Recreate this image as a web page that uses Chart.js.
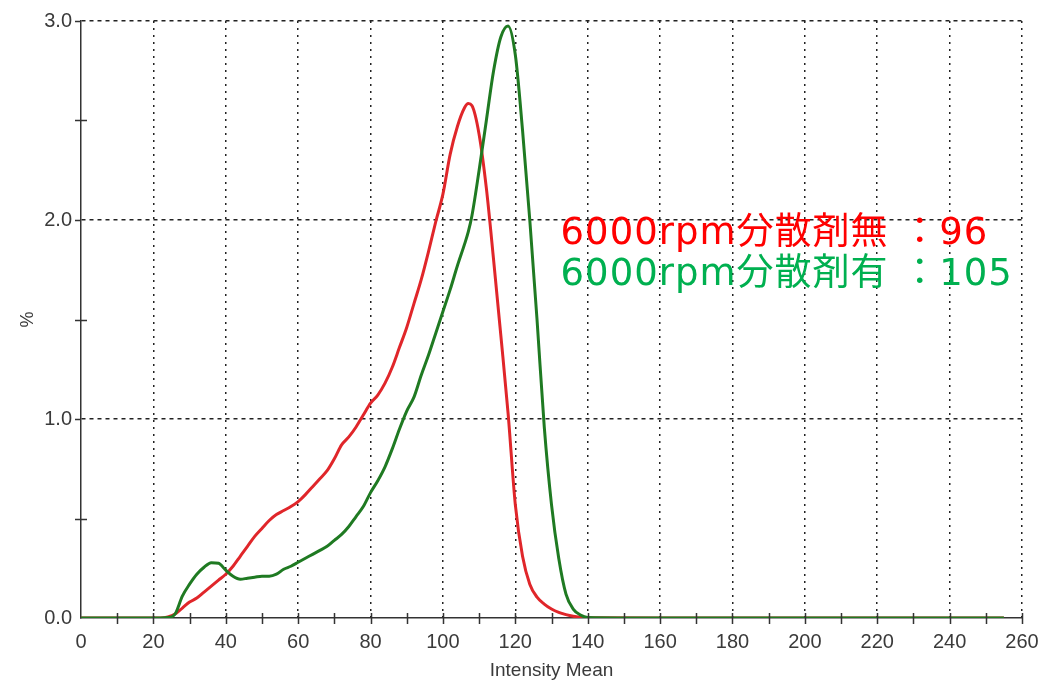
<!DOCTYPE html>
<html>
<head>
<meta charset="utf-8">
<script src="https://cdn.jsdelivr.net/npm/chart.js@4.4.1/dist/chart.umd.min.js"></script>
<style>
  html, body { margin: 0; padding: 0; background: #fff; }
  #mainChart { display: block; }
</style>
</head>
<body>
<canvas id="mainChart" width="1041" height="683"></canvas>
<script>
// ---------------- Data ----------------
const intensity = [0, 20, 22, 24, 26, 28, 30, 32, 34, 36, 38, 40, 42, 44, 46, 48, 50, 52, 54, 56, 58,
    60, 62, 64, 66, 68, 70, 72, 74, 76, 78, 80, 82, 84, 86, 88, 90, 92, 94, 96, 98, 100, 102, 104,
    106, 107, 108, 110, 112, 114, 116, 118, 120, 122, 124, 126, 128, 130, 132, 134, 136, 138, 140,
    160, 200, 255];

// 6000rpm 分散剤無
const noDispersant = [0, 0, 0, 0.005, 0.02, 0.05, 0.08, 0.10, 0.13, 0.16, 0.19, 0.22, 0.26, 0.31,
    0.36, 0.41, 0.45, 0.49, 0.52, 0.54, 0.56, 0.585, 0.62, 0.66, 0.70, 0.74, 0.80, 0.87, 0.91, 0.96,
    1.02, 1.08, 1.12, 1.18, 1.26, 1.36, 1.46, 1.58, 1.70, 1.84, 1.99, 2.13, 2.33, 2.47, 2.565, 2.585,
    2.575, 2.43, 2.16, 1.80, 1.42, 1.03, 0.57, 0.31, 0.17, 0.105, 0.07, 0.045, 0.028, 0.017, 0.009,
    0.004, 0.001, 0, 0, 0];

// 6000rpm 分散剤有
const withDispersant = [0, 0, 0, 0.002, 0.02, 0.11, 0.17, 0.22, 0.255, 0.278, 0.275, 0.24, 0.21, 0.195,
    0.20, 0.205, 0.21, 0.21, 0.22, 0.245, 0.26, 0.28, 0.30, 0.32, 0.34, 0.36, 0.39, 0.42, 0.46, 0.51,
    0.56, 0.63, 0.69, 0.76, 0.85, 0.95, 1.04, 1.11, 1.22, 1.32, 1.43, 1.54, 1.65, 1.77, 1.88, 1.94,
    2.02, 2.25, 2.50, 2.75, 2.92, 2.975, 2.83, 2.45, 2.00, 1.50, 0.96, 0.57, 0.30, 0.12, 0.045,
    0.015, 0.003, 0, 0, 0];

const notes = [
    { text: "6000rpm分散剤無 ：96", x: 132.5, y: 1.877, color: "#ff0000" },
    { text: "6000rpm分散剤有 ：105", x: 132.5, y: 1.672, color: "#00b050" }
];

const toPoints = vals => intensity.map((x, i) => ({ x: x, y: vals[i] }));


// ---------------- Plugins ----------------
// short tick marks crossing both axes (every 10 on x, every 0.5 on y)
const crossTicks = {
    id: 'crossTicks',
    afterDraw(chart) {
        const ctx = chart.ctx;
        const xs = chart.scales.x, ys = chart.scales.y;
        const x0 = xs.getPixelForValue(0), y0 = ys.getPixelForValue(0);
        ctx.save();
        ctx.strokeStyle = '#333';
        ctx.lineWidth = 1.5;
        ctx.beginPath();
        for (let v = 10; v <= 260; v += 10) {
            const px = Math.round(xs.getPixelForValue(v)) + 0.5;
            ctx.moveTo(px, y0 - 5);
            ctx.lineTo(px, y0 + 6);
        }
        for (let v = 0.5; v <= 3; v += 0.5) {
            const py = Math.round(ys.getPixelForValue(v)) + 0.5;
            ctx.moveTo(x0 - 6, py);
            ctx.lineTo(x0 + (v % 1 === 0 ? 0 : 6), py);
        }
        ctx.stroke();
        ctx.restore();
    }
};

const noteText = {
    id: 'noteText',
    afterDatasetsDraw(chart) {
        const ctx = chart.ctx;
        ctx.save();
        ctx.font = '37px "DejaVu Sans", "Noto Sans CJK JP", sans-serif';
        ctx.letterSpacing = '1px';
        ctx.textBaseline = 'alphabetic';
        ctx.textAlign = 'left';
        notes.forEach(n => {
            ctx.fillStyle = n.color;
            ctx.fillText(n.text, chart.scales.x.getPixelForValue(n.x), chart.scales.y.getPixelForValue(n.y));
        });
        ctx.restore();
    }
};


// ---------------- Chart ----------------
const tickFont = { family: '"Liberation Sans", Arial, sans-serif', size: 20 };

new Chart(document.getElementById('mainChart').getContext('2d'), {
    type: 'line',
    data: {
        datasets: [
            {
                label: '6000rpm分散剤無',
                data: toPoints(noDispersant),
                borderColor: '#e0262a',
                borderWidth: 3,
                pointRadius: 0,
                cubicInterpolationMode: 'monotone',
                order: 1
            },
            {
                label: '6000rpm分散剤有',
                data: toPoints(withDispersant),
                borderColor: '#1f7a22',
                borderWidth: 3,
                pointRadius: 0,
                cubicInterpolationMode: 'monotone',
                order: 0
            }
        ]
    },
    options: {
        responsive: false,
        animation: false,
        layout: { padding: { left: 0, top: 20, right: 19, bottom: 0 } },
        plugins: { legend: { display: false }, tooltip: { enabled: false } },
        scales: {
            x: {
                type: 'linear',
                min: 0,
                max: 260,
                afterFit: s => { s.height = 65; s.paddingRight = 0; s.paddingLeft = 0; },
                ticks: { stepSize: 20, color: '#3a3a3a', font: tickFont, padding: 12, maxRotation: 0 },
                grid: {
                    drawTicks: false,
                    color: c => c.tick && c.tick.value > 0 ? '#222' : 'rgba(0,0,0,0)',
                    lineWidth: 1.5
                },
                border: { display: true, color: '#333', width: 1.5, dash: [2, 5] },
                title: {
                    display: true,
                    text: 'Intensity Mean',
                    color: '#3a3a3a',
                    font: { family: '"Liberation Sans", Arial, sans-serif', size: 19 },
                    padding: { top: 0, bottom: 1 }
                }
            },
            y: {
                min: 0,
                max: 3,
                afterFit: s => { s.width = 81; },
                ticks: { stepSize: 1, color: '#3a3a3a', font: tickFont, padding: 9, callback: v => v.toFixed(1) },
                grid: {
                    drawTicks: false,
                    color: c => c.tick && c.tick.value > 0 ? '#222' : 'rgba(0,0,0,0)',
                    lineWidth: 1.5
                },
                border: { display: true, color: '#333', width: 1.5, dash: [4, 4] },
                title: {
                    display: true,
                    text: '%',
                    color: '#3a3a3a',
                    font: { family: '"Liberation Sans", Arial, sans-serif', size: 18 },
                    padding: { top: 17, bottom: 0 }
                }
            }
        }
    },
    plugins: [crossTicks, noteText]
});
</script>
</body>
</html>
